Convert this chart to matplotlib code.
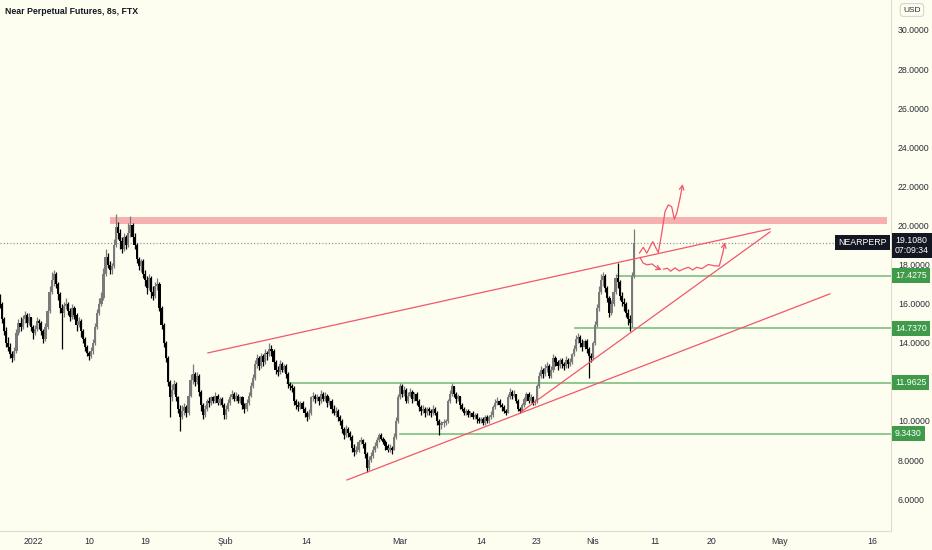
import matplotlib
matplotlib.use("Agg")
import matplotlib.pyplot as plt
import matplotlib.transforms as mtransforms
import numpy as np
import pandas as pd

# NEARPERP 8h candles (FTX), last bar 7 Apr 2022 16:00
first_open = 16.3
closes = [
    16.0, 15.2, 14.6, 14.0, 13.8, 13.4, 13.2, 13.6, 14.5, 15.0,
    14.8, 15.2, 15.4, 15.0, 15.3, 14.8, 14.5, 14.7, 15.1, 15.0,
    14.6, 14.2, 14.8, 15.6, 16.6, 17.2, 17.5, 17.0, 16.5, 15.8,
    15.5, 15.9, 16.0, 15.6, 15.3, 15.8, 15.4, 14.9, 15.1, 14.6,
    14.2, 13.8, 13.5, 13.3, 13.6, 14.0, 14.8, 15.5, 16.0, 16.3,
    17.5, 18.4, 18.0, 17.7, 17.9, 19.0, 19.9, 19.6, 19.2, 18.8,
    19.4, 19.0, 19.6, 20.0, 19.4, 19.0, 18.3, 17.9, 18.2, 17.5,
    17.2, 16.8, 17.3, 16.6, 16.4, 16.9, 17.0, 15.8, 14.9, 14.0,
    13.2, 12.0, 11.2, 11.6, 11.9, 11.2, 10.6, 10.2, 10.5, 10.7,
    10.4, 11.3, 12.1, 12.4, 12.0, 12.3, 11.5, 10.8, 10.3, 10.6,
    11.0, 10.9, 11.2, 11.0, 11.3, 10.9, 11.1, 10.8, 10.3, 10.6,
    10.9, 11.2, 11.4, 11.1, 11.3, 11.0, 11.2, 10.8, 10.6, 10.9,
    11.3, 11.8, 12.2, 12.9, 13.2, 12.8, 13.3, 13.0, 13.5, 13.4,
    13.7, 13.6, 13.0, 12.6, 12.5, 12.9, 12.6, 12.8, 12.4, 11.9,
    11.8, 11.7, 11.0, 10.8, 10.7, 10.9, 10.6, 10.4, 10.2, 10.4,
    11.2, 11.3, 11.1, 11.2, 11.0, 11.4, 11.1, 11.3, 10.9, 11.0,
    10.6, 10.4, 10.5, 10.2, 10.0, 9.6, 9.3, 9.6, 9.4, 9.2,
    8.6, 8.4, 8.5, 8.9, 9.0, 8.8, 8.3, 7.6, 8.0, 8.2,
    8.5, 8.7, 9.0, 9.3, 9.1, 8.9, 8.7, 8.5, 8.6, 8.5,
    9.2, 10.0, 11.2, 11.8, 11.4, 11.6, 11.0, 11.3, 11.5, 11.1,
    11.4, 11.0, 10.7, 10.5, 10.6, 10.4, 10.6, 10.5, 10.4, 10.6,
    10.4, 10.0, 9.8, 9.9, 9.9, 10.0, 11.0, 11.4, 11.8, 11.4,
    11.1, 11.3, 10.8, 10.6, 10.4, 10.5, 10.3, 10.4, 10.2, 10.3,
    10.1, 10.0, 10.1, 9.9, 10.2, 10.0, 10.2, 10.3, 10.7, 10.9,
    11.0, 10.8, 10.7, 10.5, 10.4, 11.2, 11.5, 11.3, 11.4, 11.0,
    10.6, 10.5, 10.8, 11.1, 11.4, 11.0, 11.2, 10.9, 11.0, 11.8,
    12.3, 12.6, 12.4, 12.7, 12.8, 12.3, 12.6, 13.2, 13.0, 12.8,
    13.1, 12.9, 12.8, 13.1, 12.9, 13.0, 13.4, 13.7, 14.2, 14.3,
    14.0, 13.8, 14.1, 13.7, 13.3, 13.2, 14.0, 14.9, 15.8, 16.6,
    17.2, 17.4, 16.8, 16.3, 15.5, 16.0, 16.6, 17.3, 17.1, 16.4,
    16.1, 16.0, 15.5, 15.2, 15.0, 17.4, 19.108,
]
highs = [
    16.5, 16.1, 15.3, 14.8, 14.3, 14.0, 13.6, 13.8, 14.7, 15.2,
    15.3, 15.4, 15.6, 15.5, 15.5, 15.3, 14.9, 14.9, 15.3, 15.2,
    15.1, 14.7, 15.0, 15.8, 16.9, 17.6, 17.7, 17.6, 17.1, 16.6,
    16.0, 16.1, 16.3, 16.1, 15.8, 16.0, 15.9, 15.5, 15.3, 15.2,
    14.7, 14.3, 13.9, 13.6, 13.8, 14.2, 15.0, 15.7, 16.3, 16.6,
    17.8, 18.8, 18.6, 18.2, 18.1, 19.3, 20.6, 20.2, 19.8, 19.4,
    19.6, 19.5, 20.1, 20.5, 20.1, 19.6, 19.1, 18.4, 18.3, 18.3,
    17.7, 17.4, 17.5, 17.4, 16.9, 17.1, 17.3, 17.1, 15.9, 15.0,
    14.1, 13.3, 12.1, 11.9, 12.1, 12.0, 11.3, 10.8, 10.8, 10.9,
    10.8, 11.5, 12.4, 12.9, 12.5, 12.5, 12.4, 11.6, 10.9, 10.8,
    11.1, 11.2, 11.3, 11.3, 11.5, 11.4, 11.2, 11.2, 10.9, 10.8,
    11.1, 11.4, 11.6, 11.5, 11.5, 11.4, 11.3, 11.3, 10.9, 11.1,
    11.5, 12.0, 12.4, 13.1, 13.4, 13.3, 13.5, 13.4, 13.7, 13.6,
    14.0, 13.9, 13.7, 13.1, 12.8, 13.1, 13.0, 12.9, 12.9, 12.5,
    12.0, 11.9, 11.8, 11.1, 11.0, 11.0, 11.0, 10.7, 10.5, 10.6,
    11.3, 11.5, 11.4, 11.4, 11.3, 11.6, 11.5, 11.5, 11.4, 11.2,
    11.1, 10.8, 10.7, 10.6, 10.3, 10.1, 9.7, 9.8, 9.7, 9.5,
    9.3, 8.8, 8.7, 9.0, 9.2, 9.1, 8.9, 8.4, 8.2, 8.4,
    8.7, 8.9, 9.2, 9.4, 9.4, 9.2, 9.0, 8.8, 8.8, 8.7,
    9.4, 10.2, 11.4, 11.95, 11.9, 11.8, 11.7, 11.5, 11.7, 11.6,
    11.5, 11.5, 11.1, 10.8, 10.8, 10.7, 10.7, 10.7, 10.6, 10.8,
    10.7, 10.5, 10.1, 10.0, 10.1, 10.1, 11.1, 11.6, 11.95, 11.8,
    11.5, 11.4, 11.3, 10.9, 10.7, 10.6, 10.6, 10.5, 10.5, 10.4,
    10.4, 10.2, 10.2, 10.2, 10.3, 10.3, 10.3, 10.5, 10.8, 11.1,
    11.2, 11.1, 10.9, 10.8, 10.6, 11.4, 11.7, 11.6, 11.6, 11.4,
    11.1, 10.7, 10.9, 11.2, 11.5, 11.5, 11.4, 11.3, 11.1, 11.9,
    12.5, 12.8, 12.7, 12.9, 13.0, 12.9, 12.8, 13.4, 13.3, 13.1,
    13.2, 13.2, 13.0, 13.3, 13.2, 13.2, 13.5, 13.9, 14.4, 14.5,
    14.4, 14.2, 14.2, 14.2, 13.8, 13.5, 14.1, 15.1, 16.0, 16.9,
    17.5, 17.6, 17.5, 16.9, 16.4, 16.2, 16.8, 17.5, 18.1, 17.2,
    16.6, 16.3, 16.1, 15.7, 15.4, 17.6, 19.8,
]
lows = [
    15.8, 15.0, 14.4, 13.8, 13.6, 13.2, 13.0, 13.1, 13.5, 14.4,
    14.6, 14.7, 15.0, 14.8, 14.9, 14.6, 14.2, 14.4, 14.6, 14.7,
    14.4, 14.0, 14.1, 14.7, 15.5, 16.5, 16.9, 16.8, 16.2, 15.5,
    13.7, 15.3, 15.7, 15.4, 15.1, 15.2, 15.2, 14.6, 14.8, 14.3,
    14.0, 13.6, 13.3, 13.1, 13.2, 13.4, 13.9, 14.7, 15.4, 15.9,
    16.2, 17.4, 17.8, 17.5, 17.5, 17.8, 18.9, 19.3, 18.8, 18.6,
    18.7, 18.8, 18.9, 19.4, 19.2, 18.8, 18.1, 17.7, 17.6, 17.3,
    16.9, 16.5, 16.7, 16.3, 16.2, 16.3, 16.7, 15.6, 14.7, 13.8,
    13.0, 11.8, 10.2, 11.0, 11.4, 11.0, 10.4, 9.5, 10.1, 10.3,
    10.2, 10.3, 11.2, 11.9, 11.8, 11.9, 11.3, 10.5, 10.1, 10.2,
    10.5, 10.7, 10.8, 10.9, 10.9, 10.8, 10.8, 10.7, 10.1, 10.1,
    10.5, 10.8, 11.1, 11.0, 11.0, 10.9, 10.9, 10.6, 10.4, 10.5,
    10.8, 11.2, 11.7, 12.1, 12.7, 12.6, 12.7, 12.8, 12.9, 13.1,
    13.3, 13.3, 12.8, 12.4, 12.3, 12.4, 12.5, 12.5, 12.2, 11.7,
    11.6, 11.5, 10.8, 10.6, 10.5, 10.6, 10.5, 10.2, 10.0, 10.1,
    10.3, 11.0, 10.9, 11.0, 10.8, 10.9, 11.0, 11.0, 10.7, 10.8,
    10.4, 10.3, 10.2, 10.0, 9.8, 9.4, 9.1, 9.2, 9.2, 9.0,
    8.4, 8.2, 8.3, 8.4, 8.8, 8.6, 8.1, 7.4, 7.5, 7.9,
    8.1, 8.4, 8.6, 8.9, 9.0, 8.8, 8.5, 8.4, 8.4, 8.3,
    8.5, 9.1, 9.9, 11.1, 11.2, 11.3, 10.9, 10.9, 11.2, 10.9,
    11.0, 10.8, 10.5, 10.3, 10.4, 10.2, 10.3, 10.3, 10.2, 10.3,
    10.3, 9.8, 9.3, 9.6, 9.7, 9.8, 9.9, 10.9, 11.3, 11.2,
    10.9, 11.0, 10.6, 10.5, 10.3, 10.3, 10.2, 10.2, 10.1, 10.1,
    9.9, 9.9, 9.9, 9.8, 9.8, 9.9, 9.9, 10.1, 10.2, 10.6,
    10.8, 10.7, 10.5, 10.4, 10.3, 10.4, 11.1, 11.1, 11.2, 10.9,
    10.5, 10.4, 10.5, 10.7, 11.0, 10.9, 10.9, 10.8, 10.8, 10.9,
    11.7, 12.2, 12.2, 12.3, 12.5, 12.2, 12.2, 12.5, 12.8, 12.6,
    12.7, 12.7, 12.6, 12.7, 12.7, 12.8, 12.9, 13.3, 13.6, 14.0,
    13.8, 13.6, 13.7, 13.5, 12.2, 13.0, 13.1, 13.9, 14.8, 15.6,
    16.5, 16.9, 16.6, 16.1, 15.3, 15.4, 15.9, 16.5, 16.8, 16.2,
    15.9, 15.6, 15.3, 14.9, 14.6, 14.8, 17.3,
]
last_bar = "2022-04-07 16:00"
last_price = 19.108
countdown = "07:09:34"

# horizontal levels (green) and where they start
level_prices = [17.4275, 14.7370, 11.9625, 9.3430]
level_starts = ["2022-04-04 21:00", "2022-03-29 02:00", "2022-02-10 19:00", "2022-03-01 00:00"]

# resistance zone
zone_start, zone_end = "2022-01-13 10:00", "2022-05-18 07:00"
zone_low, zone_high = 20.08, 20.43

# trend lines: (start date, start price, end date, end price)
trend_lines = [
    ("2022-01-29 03:00", 13.48, "2022-04-29 12:00", 19.82),
    ("2022-03-20 11:00", 10.46, "2022-04-29 12:00", 19.67),
    ("2022-02-20 11:30", 6.98, "2022-05-09 03:00", 16.50),
]

# hand-drawn projection paths (days since 1 Jan 2022, price)
path_up_days = [97.48, 98.12, 98.67, 99.63, 100.53, 101.08, 101.61, 102.14,
                102.68, 103.10, 103.49, 104.02, 104.45]
path_up_prices = [18.58, 18.88, 18.58, 19.17, 18.61, 19.60, 20.71, 21.05,
                  20.96, 20.32, 20.62, 21.39, 22.12]
path_dip_days = [97.59, 98.07, 98.71, 99.52, 100.32, 101.08]
path_dip_prices = [18.37, 18.08, 17.98, 18.03, 17.83, 17.72]
path_wave_days = [101.33, 101.98, 102.52, 103.22, 103.91, 104.66, 105.35, 106.06,
                  106.70, 107.51, 108.57, 109.65, 110.34, 110.88, 111.25]
path_wave_prices = [17.76, 17.81, 17.66, 17.83, 17.67, 17.78, 17.86, 17.72,
                    17.86, 17.79, 18.00, 17.93, 17.93, 18.58, 19.14]

tick_dates = ["2022-01-01", "2022-01-10", "2022-01-19", "2022-02-01", "2022-02-14",
              "2022-03-01", "2022-03-14", "2022-03-23", "2022-04-01", "2022-04-11",
              "2022-04-20", "2022-05-01", "2022-05-16"]
tick_labels = ["2022", "10", "19", "Şub", "14", "Mar", "14", "23", "Nis", "11",
               "20", "May", "16"]
price_ticks = [6, 8, 10, 14, 16, 18, 20, 22, 24, 26, 28, 30]

BG = "#fefef0"
UP = "#7a7a7a"
DOWN = "#000000"
RED = "#f2566a"
ZONE = "#f7b0b0"
GREEN_LINE = "#7cbf80"
GREEN_TAG = "#3f9b4a"
TEXT = "#2a2e39"

T0 = pd.Timestamp("2022-01-01")


def to_day(t):
    return (pd.Timestamp(t) - T0) / pd.Timedelta(days=1)


plt.rcParams["font.family"] = ["Liberation Sans", "DejaVu Sans"]

fig = plt.figure(figsize=(9.32, 5.5), dpi=100, facecolor=BG)
ax = fig.add_axes([0, 1 - 531 / 550, 891 / 932, 531 / 550], facecolor=BG)

# candles
times = pd.date_range(end=last_bar, periods=len(closes), freq="8h")
x = np.asarray((times - T0) / pd.Timedelta(days=1))
c = np.array(closes)
o = np.r_[first_open, c[:-1]]
h = np.maximum(np.array(highs), np.maximum(o, c))
l = np.minimum(np.array(lows), np.minimum(o, c))
colors = np.where(c >= o, UP, DOWN)
ax.vlines(x, l, h, colors=colors, linewidth=0.9, zorder=3)
body = np.maximum(np.abs(c - o), 0.07)
ax.bar(x, body, bottom=np.minimum(o, c), width=0.36, color=colors, linewidth=0, zorder=3)

# resistance zone
ax.fill_between([to_day(zone_start), to_day(zone_end)], zone_low, zone_high,
                color=ZONE, linewidth=0, zorder=2)

# trend lines
for d0, p0, d1, p1 in trend_lines:
    ax.plot([to_day(d0), to_day(d1)], [p0, p1], color=RED, lw=0.9, zorder=4)

# green levels
for price, start in zip(level_prices, level_starts):
    ax.plot([to_day(start), 140], [price, price], color=GREEN_LINE, lw=1.2, zorder=2.5)

# last price dotted line
ax.axhline(last_price, color="#9598a1", lw=0.9, ls=(0, (1, 1.6)), zorder=1)

# projection paths with arrows
for days, prices in ((path_up_days, path_up_prices),
                     (path_dip_days, path_dip_prices),
                     (path_wave_days, path_wave_prices)):
    ax.plot(days[:-1], prices[:-1], color=RED, lw=0.9, zorder=5, solid_capstyle="round")
    ax.annotate("", xy=(days[-1], prices[-1]), xytext=(days[-2], prices[-2]),
                arrowprops=dict(arrowstyle="->", color=RED, lw=0.9,
                                mutation_scale=8, shrinkA=0, shrinkB=0),
                zorder=5)

ax.set_xlim(-5.305, 137.94)
ax.set_ylim(4.37, 31.53)

ax.set_xticks([to_day(d) for d in tick_dates])
ax.set_xticklabels(tick_labels)
ax.set_yticks(price_ticks)
ax.set_yticklabels([f"{p:.4f}" for p in price_ticks])
ax.yaxis.tick_right()
ax.tick_params(axis="both", length=0, labelsize=6.3, labelcolor=TEXT)
ax.tick_params(axis="x", pad=4.5)
ax.tick_params(axis="y", pad=5)

for side in ("top", "left"):
    ax.spines[side].set_visible(False)
for side in ("right", "bottom"):
    ax.spines[side].set_color("#dedbd0")
    ax.spines[side].set_linewidth(0.8)

# price-axis tags
tag_tf = mtransforms.blended_transform_factory(ax.transAxes, ax.transData)
for price in level_prices:
    ax.text(1.0045, price, f"{price:.4f}", transform=tag_tf, ha="left", va="center",
            fontsize=6.3, color="white", clip_on=False, zorder=10,
            bbox=dict(boxstyle="square,pad=0.35", fc=GREEN_TAG, ec="none"))

ax.text(0.9955, last_price, "NEARPERP", transform=tag_tf, ha="right", va="center",
        fontsize=6.3, color="white", zorder=10,
        bbox=dict(boxstyle="square,pad=0.35", fc="#131722", ec="none"))
ax.text(1.0045, last_price + 0.36, f"{last_price:.4f}\n{countdown}", transform=tag_tf,
        ha="left", va="top", fontsize=6.3, color="white", linespacing=1.2,
        clip_on=False, zorder=10,
        bbox=dict(boxstyle="square,pad=0.35", fc="#131722", ec="none"))

fig.text(5 / 932, 1 - 11 / 550, "Near Perpetual Futures, 8s, FTX", ha="left", va="center",
         fontsize=6.3, color="#131722", fontweight="bold")
fig.text(912 / 932, 1 - 10 / 550, "USD", ha="center", va="center", fontsize=6,
         color=TEXT, bbox=dict(boxstyle="round,pad=0.35", fc=BG, ec="#d8d6cc", lw=0.8))

fig.savefig("out.png", dpi=100, facecolor=BG)
